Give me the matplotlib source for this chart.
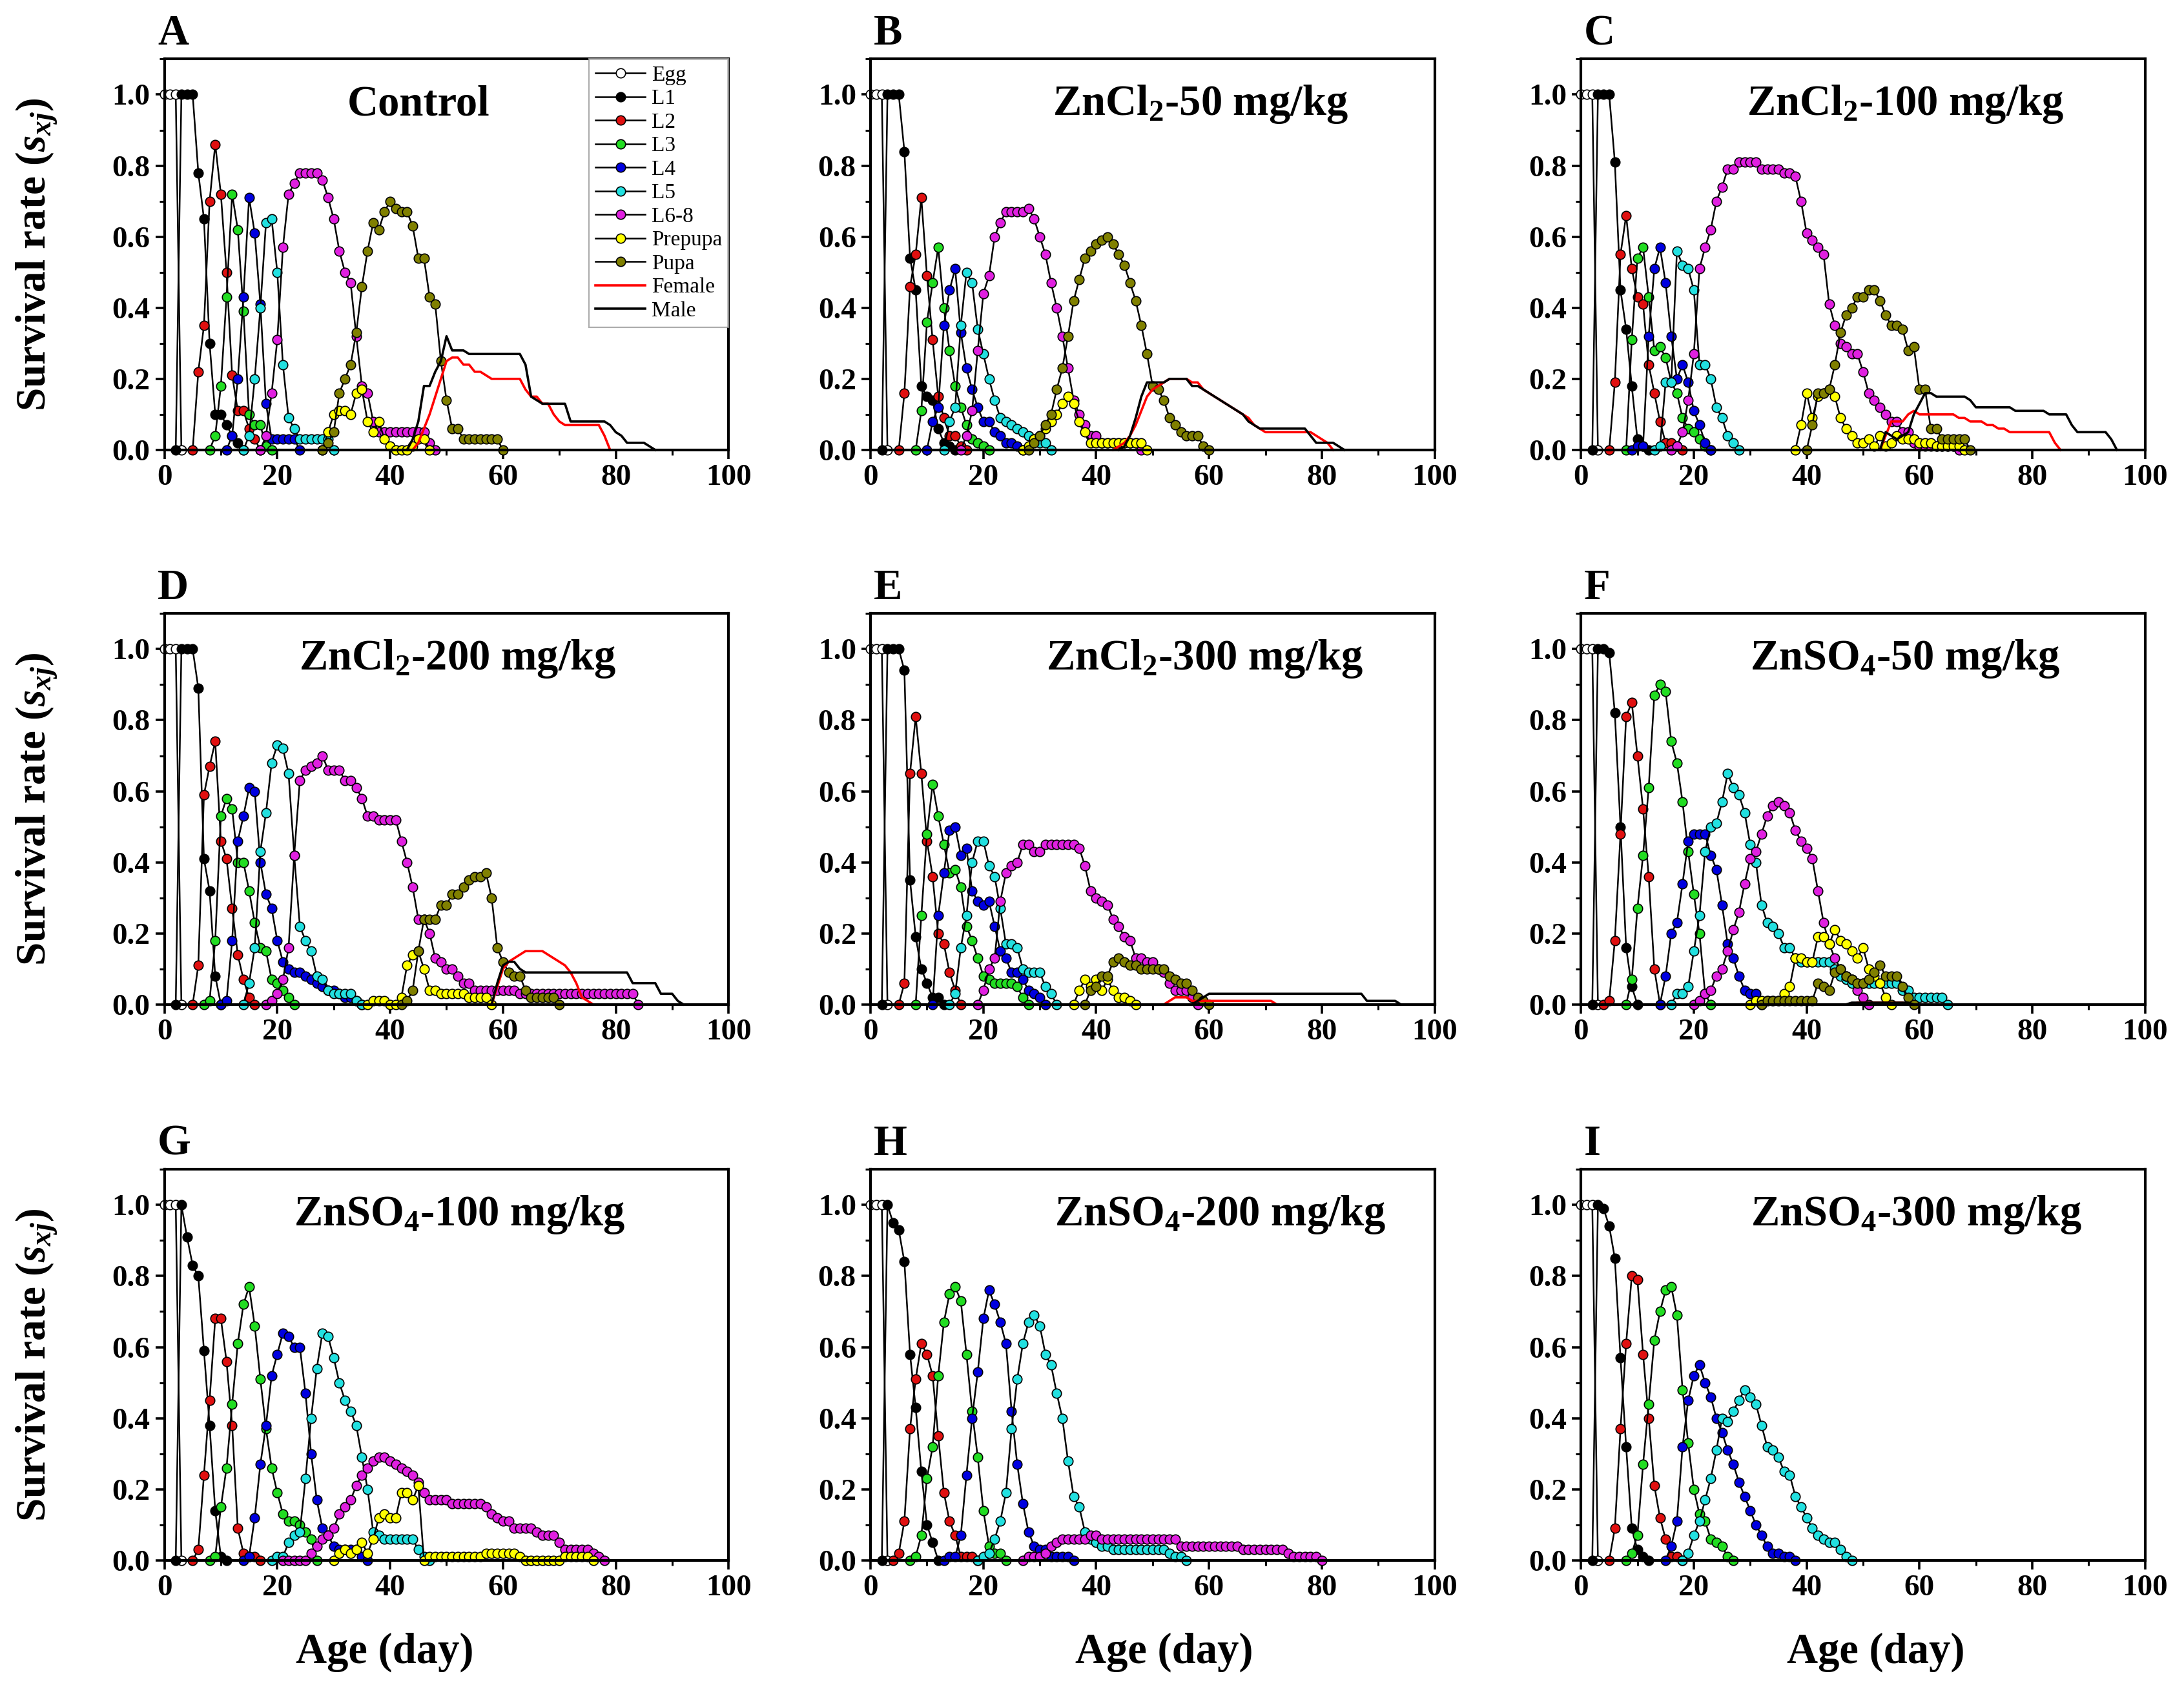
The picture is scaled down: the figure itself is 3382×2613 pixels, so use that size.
import matplotlib
matplotlib.use("Agg")
import matplotlib.pyplot as plt
from matplotlib.ticker import MultipleLocator

plt.rcParams['font.family'] = ['Liberation Serif', 'DejaVu Serif']
plt.rcParams['mathtext.fontset'] = 'custom'
plt.rcParams['mathtext.rm'] = 'Liberation Serif:bold'
plt.rcParams['mathtext.it'] = 'Liberation Serif:italic:bold'
plt.rcParams['mathtext.bf'] = 'Liberation Serif:bold'

# ---------------- data: each series = (first day, survival values day by day) -------------
stages = ['Egg', 'L1', 'L2', 'L3', 'L4', 'L5', 'L6-8', 'Prepupa', 'Pupa', 'Female', 'Male']
titles = ['Control', 'ZnCl$_2$-50 mg/kg', 'ZnCl$_2$-100 mg/kg',
          'ZnCl$_2$-200 mg/kg', 'ZnCl$_2$-300 mg/kg', 'ZnSO$_4$-50 mg/kg',
          'ZnSO$_4$-100 mg/kg', 'ZnSO$_4$-200 mg/kg', 'ZnSO$_4$-300 mg/kg']
letters = ['A', 'B', 'C', 'D', 'E', 'F', 'G', 'H', 'I']
x_ticks = [0, 20, 40, 60, 80, 100]
y_ticks = [0.0, 0.2, 0.4, 0.6, 0.8, 1.0]

panel_A = {
    'Egg': (0, [1, 1, 1, 0]),
    'L1': (2, [0, 1, 1, 1, 0.78, 0.65, 0.30, 0.10, 0.10, 0.07, 0.04, 0.02, 0]),
    'L2': (5, [0, 0.22, 0.35, 0.70, 0.86, 0.72, 0.50, 0.21, 0.11, 0.11, 0.06, 0.03, 0]),
    'L3': (8, [0, 0.04, 0.18, 0.43, 0.72, 0.62, 0.39, 0.10, 0.07, 0.07, 0.01, 0]),
    'L4': (11, [0, 0.04, 0.20, 0.43, 0.71, 0.61, 0.41, 0.13, 0.03, 0.03, 0.03, 0.03, 0.03, 0]),
    'L5': (14, [0, 0.04, 0.20, 0.40, 0.64, 0.65, 0.50, 0.24, 0.09, 0.06, 0.03, 0.03, 0.03, 0.03, 0.03, 0.03, 0]),
    'L6-8': (17, [0, 0.04, 0.16, 0.31, 0.57, 0.72, 0.75, 0.78, 0.78, 0.78, 0.78, 0.76, 0.71, 0.65, 0.56, 0.50,
                  0.47, 0.32, 0.18, 0.16, 0.08, 0.05, 0.05, 0.05, 0.05, 0.05, 0.05, 0.05, 0.05, 0.05, 0.02, 0]),
    'Prepupa': (28, [0, 0.05, 0.10, 0.11, 0.11, 0.10, 0.16, 0.17, 0.08, 0.05, 0.08, 0.03, 0.01, 0, 0, 0,
                     0.01, 0.03, 0.03, 0]),
    'Pupa': (28, [0, 0.02, 0.05, 0.16, 0.20, 0.24, 0.33, 0.46, 0.56, 0.64, 0.62, 0.67, 0.70, 0.68, 0.67, 0.67,
                  0.63, 0.54, 0.54, 0.43, 0.41, 0.25, 0.14, 0.06, 0.06, 0.03, 0.03, 0.03, 0.03, 0.03, 0.03, 0.03, 0]),
    'Female': (44, [0, 0.02, 0.06, 0.10, 0.15, 0.20, 0.25, 0.26, 0.26, 0.24, 0.24, 0.22, 0.22, 0.21, 0.20, 0.20,
                    0.20, 0.20, 0.20, 0.20, 0.17, 0.15, 0.15, 0.13, 0.13, 0.10, 0.08, 0.07, 0.07, 0.07, 0.07,
                    0.07, 0.07, 0.07, 0.04, 0]),
    'Male': (43, [0, 0.03, 0.08, 0.18, 0.18, 0.22, 0.25, 0.32, 0.28, 0.28, 0.28, 0.27, 0.27, 0.27, 0.27, 0.27,
                  0.27, 0.27, 0.27, 0.27, 0.27, 0.24, 0.15, 0.14, 0.13, 0.13, 0.13, 0.13, 0.13, 0.08, 0.08, 0.08,
                  0.08, 0.08, 0.08, 0.08, 0.07, 0.05, 0.04, 0.02, 0.02, 0.02, 0.02, 0.01, 0]),
}

panel_B = {
    'Egg': (0, [1, 1, 1, 0]),
    'L1': (2, [0, 1, 1, 1, 0.84, 0.54, 0.45, 0.18, 0.15, 0.14, 0.06, 0.02, 0.01, 0]),
    'L2': (5, [0, 0.16, 0.46, 0.55, 0.71, 0.49, 0.31, 0.15, 0.09, 0.04, 0.04, 0.01, 0]),
    'L3': (8, [0, 0.11, 0.36, 0.47, 0.57, 0.40, 0.28, 0.18, 0.12, 0.07, 0.03, 0.02, 0.01, 0]),
    'L4': (10, [0, 0.08, 0.12, 0.35, 0.45, 0.51, 0.33, 0.23, 0.17, 0.12, 0.08, 0.08, 0.05, 0.04, 0.02, 0.02, 0.01, 0]),
    'L5': (13, [0, 0.08, 0.12, 0.35, 0.50, 0.47, 0.34, 0.27, 0.20, 0.14, 0.09, 0.08, 0.07, 0.06, 0.05, 0.04,
                0.03, 0.02, 0.02, 0]),
    'L6-8': (16, [0, 0.04, 0.11, 0.28, 0.44, 0.49, 0.60, 0.64, 0.67, 0.67, 0.67, 0.67, 0.68, 0.65, 0.60, 0.55,
                  0.47, 0.40, 0.32, 0.23, 0.14, 0.10, 0.07, 0.04, 0.04, 0.02, 0.02, 0.02, 0.02, 0.02, 0.02, 0.02, 0]),
    'Prepupa': (27, [0, 0.01, 0.03, 0.04, 0.06, 0.08, 0.10, 0.13, 0.15, 0.13, 0.08, 0.05, 0.02, 0.02, 0.02,
                     0.02, 0.02, 0.02, 0.02, 0.02, 0.02, 0.02, 0]),
    'Pupa': (28, [0, 0.02, 0.04, 0.07, 0.10, 0.17, 0.23, 0.32, 0.42, 0.48, 0.54, 0.56, 0.58, 0.59, 0.60, 0.58,
                  0.55, 0.52, 0.47, 0.42, 0.35, 0.27, 0.18, 0.17, 0.14, 0.09, 0.07, 0.05, 0.04, 0.04, 0.04, 0.01, 0]),
    'Female': (43, [0, 0.01, 0.02, 0.04, 0.07, 0.11, 0.15, 0.17, 0.18, 0.19, 0.20, 0.20, 0.20, 0.20, 0.19, 0.19,
                    0.17, 0.16, 0.15, 0.14, 0.13, 0.12, 0.11, 0.10, 0.09, 0.07, 0.06, 0.05, 0.05, 0.05, 0.05,
                    0.05, 0.05, 0.05, 0.05, 0.05, 0.04, 0.03, 0.02, 0]),
    'Male': (44, [0, 0.01, 0.04, 0.09, 0.15, 0.19, 0.19, 0.19, 0.19, 0.20, 0.20, 0.20, 0.20, 0.18, 0.18, 0.17,
                  0.16, 0.15, 0.14, 0.13, 0.12, 0.11, 0.10, 0.08, 0.07, 0.06, 0.06, 0.06, 0.06, 0.06, 0.06, 0.06,
                  0.06, 0.06, 0.04, 0.02, 0.02, 0.02, 0.02, 0.01, 0]),
}

panel_C = {
    'Egg': (0, [1, 1, 1, 0]),
    'L1': (2, [0, 1, 1, 1, 0.81, 0.45, 0.34, 0.18, 0.03, 0.01, 0]),
    'L2': (5, [0, 0.19, 0.55, 0.66, 0.51, 0.43, 0.41, 0.24, 0.16, 0.08, 0.02, 0.02, 0.01, 0]),
    'L3': (8, [0, 0.31, 0.54, 0.57, 0.43, 0.28, 0.29, 0.26, 0.19, 0.16, 0.09, 0.06, 0.05, 0.03, 0.01, 0]),
    'L4': (9, [0, 0.01, 0.01, 0.32, 0.51, 0.57, 0.47, 0.32, 0.20, 0.24, 0.19, 0.11, 0.07, 0.02, 0]),
    'L5': (13, [0, 0.01, 0.19, 0.19, 0.56, 0.52, 0.51, 0.45, 0.24, 0.24, 0.20, 0.12, 0.09, 0.04, 0.02, 0]),
    'L6-8': (16, [0, 0.01, 0.05, 0.14, 0.27, 0.51, 0.57, 0.62, 0.70, 0.74, 0.79, 0.79, 0.81, 0.81, 0.81, 0.81,
                  0.79, 0.79, 0.79, 0.79, 0.78, 0.78, 0.77, 0.70, 0.61, 0.59, 0.57, 0.55, 0.41, 0.35, 0.30, 0.29,
                  0.27, 0.27, 0.22, 0.16, 0.14, 0.12, 0.10, 0.08, 0.08, 0.05, 0.05, 0.02, 0.01, 0.01, 0.01, 0.01,
                  0.01, 0.01, 0.01, 0]),
    'Prepupa': (38, [0, 0.07, 0.16, 0.09, 0.15, 0.16, 0.17, 0.15, 0.09, 0.06, 0.04, 0.02, 0.02, 0.03, 0.01, 0.04,
                     0.01, 0.02, 0.04, 0.03, 0.03, 0.03, 0.02, 0.02, 0.02, 0.01, 0.01, 0.01, 0.01, 0.01, 0]),
    'Pupa': (40, [0, 0.07, 0.16, 0.16, 0.17, 0.24, 0.33, 0.38, 0.40, 0.43, 0.43, 0.45, 0.45, 0.42, 0.38, 0.35,
                  0.35, 0.34, 0.28, 0.29, 0.17, 0.17, 0.06, 0.06, 0.03, 0.03, 0.03, 0.03, 0.03, 0]),
    'Female': (53, [0, 0.04, 0.08, 0.08, 0.08, 0.10, 0.11, 0.10, 0.10, 0.10, 0.10, 0.10, 0.10, 0.10, 0.09, 0.09,
                    0.08, 0.08, 0.08, 0.07, 0.07, 0.06, 0.06, 0.05, 0.05, 0.05, 0.05, 0.05, 0.05, 0.05, 0.05,
                    0.02, 0]),
    'Male': (53, [0, 0.05, 0.04, 0.03, 0.04, 0.05, 0.10, 0.13, 0.16, 0.16, 0.15, 0.15, 0.15, 0.15, 0.15, 0.15,
                  0.14, 0.12, 0.12, 0.12, 0.12, 0.12, 0.12, 0.12, 0.11, 0.11, 0.11, 0.11, 0.11, 0.11, 0.10, 0.10,
                  0.10, 0.10, 0.07, 0.05, 0.05, 0.05, 0.05, 0.05, 0.05, 0.03, 0]),
}

panel_D = {
    'Egg': (0, [1, 1, 1, 0]),
    'L1': (2, [0, 1, 1, 1, 0.89, 0.41, 0.32, 0.08, 0]),
    'L2': (5, [0, 0.11, 0.59, 0.67, 0.74, 0.46, 0.41, 0.27, 0.14, 0.07, 0.02, 0]),
    'L3': (7, [0, 0.01, 0.18, 0.53, 0.58, 0.55, 0.40, 0.40, 0.32, 0.23, 0.16, 0.15, 0.07, 0.06, 0.04, 0.02, 0]),
    'L4': (10, [0, 0.01, 0.18, 0.46, 0.53, 0.61, 0.60, 0.40, 0.31, 0.27, 0.18, 0.12, 0.10, 0.09, 0.09, 0.08,
                0.07, 0.06, 0.05, 0.04, 0.04, 0.03, 0.02, 0.02, 0.01, 0]),
    'L5': (14, [0, 0.06, 0.16, 0.43, 0.54, 0.68, 0.73, 0.72, 0.65, 0.42, 0.22, 0.18, 0.15, 0.08, 0.07, 0.04,
                0.03, 0.03, 0.03, 0.03, 0.01, 0]),
    'L6-8': (18, [0, 0.01, 0.03, 0.07, 0.16, 0.42, 0.63, 0.66, 0.67, 0.68, 0.70, 0.66, 0.66, 0.66, 0.63, 0.63,
                  0.61, 0.58, 0.53, 0.53, 0.52, 0.52, 0.52, 0.52, 0.46, 0.40, 0.33, 0.24, 0.24, 0.20, 0.13, 0.12,
                  0.10, 0.10, 0.08, 0.06, 0.06, 0.04, 0.04, 0.04, 0.04, 0.04, 0.04, 0.04, 0.04, 0.03, 0.03, 0.03,
                  0.03, 0.03, 0.03, 0.03, 0.03, 0.03, 0.03, 0.03, 0.03, 0.03, 0.03, 0.03, 0.03, 0.03, 0.03, 0.03,
                  0.03, 0.03, 0]),
    'Prepupa': (36, [0, 0.01, 0.01, 0.01, 0, 0, 0.02, 0.11, 0.14, 0.15, 0.10, 0.04, 0.04, 0.03, 0.03, 0.03,
                     0.03, 0.03, 0.02, 0.02, 0.02, 0.02, 0]),
    'Pupa': (42, [0, 0.01, 0.04, 0.15, 0.24, 0.24, 0.24, 0.28, 0.28, 0.31, 0.31, 0.33, 0.35, 0.36, 0.36, 0.37,
                  0.30, 0.16, 0.12, 0.09, 0.08, 0.08, 0.04, 0.02, 0.02, 0.02, 0.02, 0.02, 0]),
    'Female': (58, [0, 0.05, 0.10, 0.12, 0.13, 0.14, 0.15, 0.15, 0.15, 0.15, 0.14, 0.13, 0.12, 0.11, 0.09, 0.06,
                    0.02, 0.01, 0]),
    'Male': (58, [0, 0.06, 0.11, 0.12, 0.12, 0.10, 0.09, 0.09, 0.09, 0.09, 0.09, 0.09, 0.09, 0.09, 0.09, 0.09,
                  0.09, 0.09, 0.09, 0.09, 0.09, 0.09, 0.09, 0.09, 0.09, 0.06, 0.06, 0.06, 0.06, 0.06, 0.03, 0.03,
                  0.03, 0.01, 0]),
}

panel_E = {
    'Egg': (0, [1, 1, 1, 0]),
    'L1': (2, [0, 1, 1, 1, 0.94, 0.35, 0.19, 0.10, 0.06, 0.02, 0.02, 0]),
    'L2': (5, [0, 0.06, 0.65, 0.81, 0.65, 0.46, 0.36, 0.20, 0.17, 0.09, 0.04, 0]),
    'L3': (8, [0, 0.25, 0.48, 0.62, 0.53, 0.45, 0.37, 0.38, 0.33, 0.22, 0.18, 0.13, 0.08, 0.07, 0.06, 0.06,
               0.06, 0.06, 0.05, 0.02, 0]),
    'L4': (11, [0, 0.25, 0.37, 0.49, 0.50, 0.42, 0.44, 0.32, 0.29, 0.28, 0.29, 0.22, 0.15, 0.13, 0.09, 0.09,
                0.07, 0.04, 0.03, 0.02, 0]),
    'L5': (14, [0, 0.03, 0.16, 0.25, 0.40, 0.46, 0.46, 0.39, 0.36, 0.27, 0.17, 0.17, 0.16, 0.10, 0.09, 0.09,
                0.09, 0.05, 0.03, 0]),
    'L6-8': (19, [0, 0.04, 0.10, 0.13, 0.29, 0.37, 0.39, 0.40, 0.45, 0.45, 0.43, 0.43, 0.45, 0.45, 0.45, 0.45,
                  0.45, 0.45, 0.44, 0.39, 0.32, 0.30, 0.29, 0.28, 0.24, 0.22, 0.19, 0.18, 0.13, 0.13, 0.12, 0.12,
                  0.10, 0.09, 0.06, 0.04, 0.04, 0.04, 0.02, 0]),
    'Prepupa': (36, [0, 0.04, 0.07, 0.05, 0.07, 0.04, 0.07, 0.04, 0.02, 0.02, 0.01, 0]),
    'Pupa': (38, [0, 0.04, 0.05, 0.08, 0.08, 0.12, 0.13, 0.12, 0.11, 0.11, 0.10, 0.10, 0.10, 0.10, 0.10, 0.08,
                  0.07, 0.06, 0.06, 0.04, 0.02, 0.01, 0]),
    'Female': (52, [0, 0.01, 0.02, 0.02, 0.02, 0.01, 0.01, 0.01, 0.01, 0.01, 0.01, 0.01, 0.01, 0.01, 0.01,
                    0.01, 0.01, 0.01, 0.01, 0.01, 0]),
    'Male': (57, [0, 0.01, 0.02, 0.03, 0.03, 0.03, 0.03, 0.03, 0.03, 0.03, 0.03, 0.03, 0.03, 0.03, 0.03, 0.03,
                  0.03, 0.03, 0.03, 0.03, 0.03, 0.03, 0.03, 0.03, 0.03, 0.03, 0.03, 0.03, 0.03, 0.03, 0.03, 0.01,
                  0.01, 0.01, 0.01, 0.01, 0.01, 0]),
}

panel_F = {
    'Egg': (0, [1, 1, 1, 0]),
    'L1': (2, [0, 1, 1, 0.99, 0.82, 0.50, 0.16, 0.05, 0]),
    'L2': (4, [0, 0.01, 0.18, 0.48, 0.81, 0.85, 0.70, 0.55, 0.36, 0.10, 0]),
    'L3': (8, [0, 0.07, 0.27, 0.42, 0.61, 0.87, 0.90, 0.88, 0.74, 0.68, 0.57, 0.43, 0.31, 0.20, 0.03, 0]),
    'L4': (14, [0, 0.08, 0.20, 0.23, 0.34, 0.46, 0.48, 0.48, 0.48, 0.42, 0.38, 0.28, 0.17, 0.13, 0.08, 0.04,
                0.03, 0.03, 0]),
    'L5': (16, [0, 0.03, 0.03, 0.05, 0.15, 0.25, 0.43, 0.50, 0.51, 0.57, 0.65, 0.61, 0.59, 0.54, 0.45, 0.40,
                0.28, 0.23, 0.22, 0.20, 0.16, 0.16, 0.13, 0.12, 0.12, 0.12, 0.12, 0.12, 0.12, 0.10, 0.08, 0.07,
                0.06, 0.06, 0.06, 0.06, 0.06, 0.06, 0.06, 0.06, 0.06, 0.04, 0.04, 0.02, 0.02, 0.02, 0.02, 0.02,
                0.02, 0]),
    'L6-8': (20, [0, 0.01, 0.03, 0.04, 0.08, 0.10, 0.15, 0.21, 0.26, 0.34, 0.41, 0.43, 0.48, 0.53, 0.56, 0.57,
                  0.56, 0.54, 0.49, 0.46, 0.44, 0.41, 0.32, 0.23, 0.17, 0.13, 0.10, 0.08, 0.07, 0.04, 0.02, 0]),
    'Prepupa': (30, [0, 0.01, 0.01, 0.01, 0.01, 0.01, 0.03, 0.05, 0.13, 0.13, 0.12, 0.12, 0.19, 0.19, 0.17,
                     0.21, 0.18, 0.17, 0.15, 0.13, 0.16, 0.10, 0.08, 0.06, 0.02, 0]),
    'Pupa': (32, [0, 0.01, 0.01, 0.01, 0.01, 0.01, 0.01, 0.01, 0.01, 0.01, 0.06, 0.05, 0.04, 0.09, 0.10, 0.08,
                  0.07, 0.06, 0.06, 0.07, 0.09, 0.11, 0.08, 0.08, 0.08, 0.05, 0.02, 0]),
    'Female': (48, [0, 0.005, 0.005, 0.005, 0.005, 0.005, 0.005, 0.005, 0.005, 0.005, 0]),
    'Male': (47, [0, 0.005, 0.005, 0.005, 0.005, 0.005, 0.005, 0.005, 0.005, 0.005, 0.005, 0.005, 0]),
}

panel_G = {
    'Egg': (0, [1, 1, 1, 0]),
    'L1': (2, [0, 1.0, 0.91, 0.83, 0.80, 0.59, 0.38, 0.14, 0.01, 0]),
    'L2': (5, [0, 0.03, 0.24, 0.45, 0.68, 0.68, 0.56, 0.38, 0.09, 0.02, 0.01, 0.01, 0]),
    'L3': (8, [0, 0.01, 0.15, 0.26, 0.44, 0.61, 0.72, 0.77, 0.66, 0.51, 0.37, 0.26, 0.19, 0.13, 0.11, 0.11,
               0.10, 0.08, 0.06, 0]),
    'L4': (14, [0, 0.01, 0.12, 0.27, 0.38, 0.52, 0.58, 0.64, 0.63, 0.60, 0.60, 0.47, 0.30, 0.17, 0.09, 0.07,
                0.04, 0.03, 0.03, 0.03, 0.03, 0.01, 0]),
    'L5': (19, [0, 0.01, 0.01, 0.05, 0.07, 0.08, 0.23, 0.40, 0.54, 0.64, 0.63, 0.57, 0.50, 0.45, 0.42, 0.38,
                0.29, 0.20, 0.08, 0.07, 0.06, 0.06, 0.06, 0.06, 0.06, 0.06, 0.03, 0.01, 0]),
    'L6-8': (21, [0, 0, 0, 0, 0, 0.02, 0.04, 0.06, 0.07, 0.09, 0.13, 0.15, 0.17, 0.21, 0.24, 0.26, 0.28, 0.29,
                  0.29, 0.28, 0.27, 0.26, 0.25, 0.24, 0.22, 0.19, 0.17, 0.17, 0.17, 0.17, 0.16, 0.16, 0.16, 0.16,
                  0.16, 0.16, 0.15, 0.13, 0.12, 0.11, 0.11, 0.09, 0.09, 0.09, 0.09, 0.08, 0.07, 0.07, 0.07, 0.05,
                  0.03, 0.03, 0.03, 0.03, 0.03, 0.02, 0.01, 0]),
    'Prepupa': (30, [0, 0.02, 0.03, 0.02, 0.03, 0.05, 0.02, 0.06, 0.12, 0.13, 0.12, 0.12, 0.19, 0.19, 0.17,
                     0.21, 0, 0.01, 0.01, 0.01, 0.01, 0.01, 0.01, 0.01, 0.01, 0.01, 0.01, 0.02, 0.02, 0.02, 0.02,
                     0.02, 0.02, 0.01, 0, 0, 0, 0, 0, 0, 0, 0.01, 0.01, 0.01, 0.01, 0.01, 0]),
}

panel_H = {
    'Egg': (0, [1, 1, 1, 0]),
    'L1': (2, [0, 1.0, 0.95, 0.93, 0.84, 0.58, 0.43, 0.25, 0.10, 0.05, 0]),
    'L2': (4, [0, 0.02, 0.11, 0.37, 0.51, 0.61, 0.58, 0.52, 0.35, 0.19, 0.11, 0.07, 0.01, 0.01, 0.01, 0]),
    'L3': (7, [0, 0.01, 0.07, 0.23, 0.32, 0.52, 0.67, 0.75, 0.77, 0.73, 0.58, 0.42, 0.29, 0.14, 0.04, 0.02,
               0.02, 0]),
    'L4': (13, [0, 0.01, 0.01, 0.07, 0.24, 0.40, 0.53, 0.68, 0.76, 0.72, 0.67, 0.61, 0.42, 0.27, 0.16, 0.08,
                0.04, 0.03, 0.03, 0.01, 0.01, 0.01, 0.01, 0]),
    'L5': (19, [0, 0.01, 0.02, 0.06, 0.11, 0.19, 0.37, 0.51, 0.61, 0.67, 0.69, 0.66, 0.58, 0.55, 0.47, 0.40,
                0.28, 0.18, 0.15, 0.08, 0.06, 0.05, 0.04, 0.04, 0.03, 0.03, 0.03, 0.03, 0.03, 0.03, 0.03, 0.03,
                0.03, 0.03, 0.02, 0.01, 0.01, 0]),
    'L6-8': (27, [0, 0.01, 0.01, 0.01, 0.02, 0.04, 0.05, 0.06, 0.06, 0.06, 0.06, 0.06, 0.07, 0.07, 0.06, 0.06,
                  0.06, 0.06, 0.06, 0.06, 0.06, 0.06, 0.06, 0.06, 0.06, 0.06, 0.06, 0.06, 0.04, 0.04, 0.04, 0.04,
                  0.04, 0.04, 0.04, 0.04, 0.04, 0.04, 0.04, 0.03, 0.03, 0.03, 0.03, 0.03, 0.03, 0.03, 0.03, 0.02,
                  0.01, 0.01, 0.01, 0.01, 0.01, 0]),
}

panel_I = {
    'Egg': (0, [1, 1, 1, 0]),
    'L1': (2, [0, 1.0, 0.99, 0.94, 0.85, 0.57, 0.32, 0.09, 0.03, 0.01, 0]),
    'L2': (5, [0, 0.09, 0.37, 0.61, 0.80, 0.79, 0.58, 0.40, 0.21, 0.12, 0.06, 0.01, 0.01, 0]),
    'L3': (8, [0, 0.02, 0.07, 0.27, 0.44, 0.62, 0.70, 0.76, 0.77, 0.69, 0.48, 0.33, 0.20, 0.13, 0.11, 0.06,
               0.05, 0.04, 0.01, 0]),
    'L4': (15, [0, 0.04, 0.11, 0.32, 0.45, 0.52, 0.55, 0.50, 0.46, 0.40, 0.36, 0.31, 0.27, 0.22, 0.18, 0.14,
                0.10, 0.07, 0.04, 0.02, 0.02, 0.01, 0.01, 0]),
    'L5': (18, [0, 0.02, 0.07, 0.11, 0.17, 0.23, 0.31, 0.40, 0.39, 0.42, 0.45, 0.48, 0.46, 0.44, 0.38, 0.32,
                0.31, 0.29, 0.25, 0.24, 0.18, 0.15, 0.12, 0.09, 0.07, 0.06, 0.05, 0.05, 0.03, 0.01, 0]),
}

panels = [panel_A, panel_B, panel_C, panel_D, panel_E, panel_F, panel_G, panel_H, panel_I]

# ---------------- styles ----------------
face = {'Egg': '#FFFFFF', 'L1': '#000000', 'L2': '#E01010', 'L3': '#22DD22', 'L4': '#0000E0',
        'L5': '#22E0E0', 'L6-8': '#E020E0', 'Prepupa': '#FFFF00', 'Pupa': '#808000'}
adult_color = {'Female': '#FF0000', 'Male': '#000000'}

fig = plt.figure(figsize=(16.91, 13.065), dpi=200)

lefts = [0.0753, 0.3986, 0.7239]
bottoms = [0.7333, 0.4046, 0.0751]
W, H = 0.2583, 0.2317
title_x = [0.45, 0.585, 0.575, 0.52, 0.593, 0.575, 0.523, 0.62, 0.595]
letter_x = [-0.012, 0.005, 0.005]
xlabel_x = [0.39, 0.52, 0.523]

for i, data in enumerate(panels):
    r, c = divmod(i, 3)
    ax = fig.add_axes([lefts[c], bottoms[r], W, H])
    handles = []
    for st in stages:
        if st not in data:
            continue
        start, vals = data[st]
        days = list(range(start, start + len(vals)))
        if st in face:
            h, = ax.plot(days, vals, color='black', lw=0.9, marker='o', ms=5.2,
                         mfc=face[st], mec='black', mew=0.6, clip_on=False, label=st)
        else:
            h, = ax.plot(days, vals, color=adult_color[st], lw=1.3, clip_on=False, label=st)
        handles.append(h)
    ax.set_xlim(0, 100)
    ax.set_ylim(0, 1.1)
    ax.set_xticks(x_ticks)
    ax.set_yticks(y_ticks)
    ax.set_xticklabels([str(v) for v in x_ticks])
    ax.set_yticklabels(['%.1f' % v for v in y_ticks])
    ax.xaxis.set_minor_locator(MultipleLocator(10))
    ax.yaxis.set_minor_locator(MultipleLocator(0.1))
    ax.tick_params(which='major', direction='out', length=5, width=1.3, labelsize=17, pad=3)
    ax.tick_params(which='minor', direction='out', length=3, width=1.1)
    for lab in ax.get_xticklabels() + ax.get_yticklabels():
        lab.set_fontweight('bold')
    for sp in ax.spines.values():
        sp.set_linewidth(1.5)
    ax.text(title_x[i], 0.857, titles[i], transform=ax.transAxes, ha='center', va='baseline',
            fontsize=24, fontweight='bold')
    ax.text(letter_x[c], 1.037, letters[i], transform=ax.transAxes, ha='left', va='baseline',
            fontsize=24, fontweight='bold')
    if c == 0:
        ax.set_ylabel('Survival rate ($s_{xj}$)', fontsize=23.5, fontweight='bold')
        ax.yaxis.set_label_coords(-0.186, 0.5)
    if r == 2:
        ax.text(xlabel_x[c], -0.235, 'Age (day)', transform=ax.transAxes, ha='center', va='center',
                fontsize=24, fontweight='bold')
    if i == 0:
        leg = ax.legend(handles=handles, loc='upper right', bbox_to_anchor=(1.0, 1.0), borderaxespad=0,
                        frameon=True, fancybox=False, edgecolor='#999999', fontsize=12,
                        handlelength=2.3, labelspacing=0.18, handletextpad=0.3, borderpad=0.3)
        leg.get_frame().set_linewidth(0.8)

fig.savefig('out.png', dpi=200)
